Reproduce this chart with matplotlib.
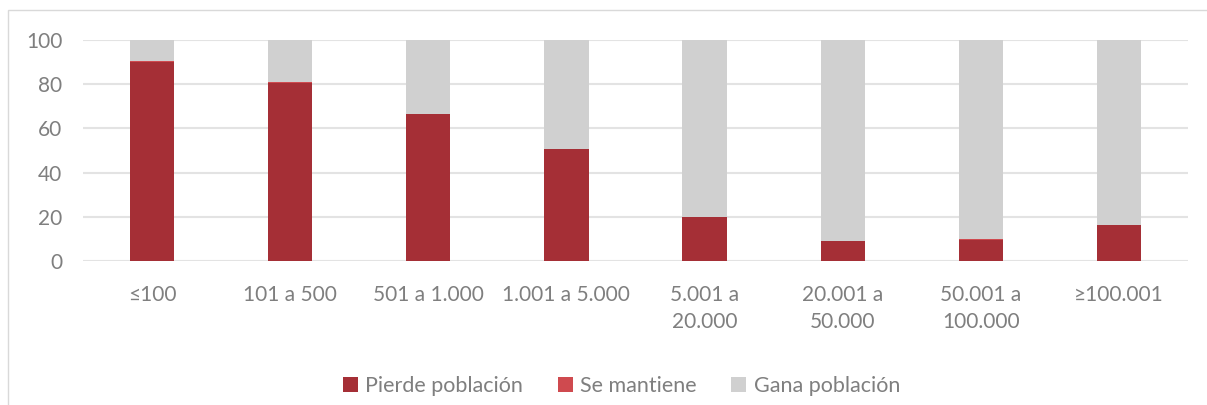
import numpy as np
import matplotlib
matplotlib.use("Agg")
import matplotlib.pyplot as plt
from matplotlib.patches import Rectangle

plt.rcParams['font.family'] = ['Lato', 'DejaVu Sans']

# ====== データ ======
categories = ["≤100", "101 a 500", "501 a 1.000", "1.001 a 5.000",
              "5.001 a\n20.000", "20.001 a\n50.000", "50.001 a\n100.000", "≥100.001"]
pierde = [90.0, 80.5, 66.5, 50.6, 19.9, 9.0, 9.6, 16.3]
mantiene = [0.6, 0.6, 0.2, 0.2, 0.1, 0.2, 0.2, 0.2]
gana = [9.4, 18.9, 33.3, 49.2, 80.0, 90.8, 90.2, 83.5]
series_names = ["Pierde población", "Se mantiene", "Gana población"]
colors = ["#A52F36", "#CF4A4F", "#D0D0D0"]
# ==================

fig = plt.figure(figsize=(12.07, 4.05), dpi=100)
# 外枠
fig.patches.append(Rectangle((8 / 1207, -0.1), 1.2, (405 - 10) / 405 + 0.1,
                             transform=fig.transFigure, fill=False,
                             edgecolor="#D9D9D9", linewidth=1.0))

ax = fig.add_axes([83 / 1207, 1 - 261 / 405, (1188 - 83) / 1207, (261 - 40) / 405])
x = np.arange(len(categories))
w = 0.32
bottom = np.zeros(len(categories))
for vals, name, c in zip([pierde, mantiene, gana], series_names, colors):
    ax.bar(x, vals, w, bottom=bottom, color=c, label=name, zorder=3)
    bottom += np.array(vals)

ax.set_xlim(-0.5, len(categories) - 0.5)
ax.set_ylim(0, 100)
ax.set_yticks(range(0, 101, 20))
ax.set_xticks(x)
ax.set_xticklabels(categories, linespacing=1.45)
ax.tick_params(axis="both", length=0, labelsize=15, colors="#7F7F7F")
ax.tick_params(axis="x", pad=17)
ax.tick_params(axis="y", pad=15)
ax.grid(axis="y", color="#E3E3E3", linewidth=1.5, zorder=0)
ax.set_axisbelow(True)
for s in ax.spines.values():
    s.set_visible(False)

leg = fig.legend(loc="center", bbox_to_anchor=(0.515, 1 - 386 / 405), ncol=3,
                 frameon=False, fontsize=15.5, handlelength=0.7, handleheight=0.7,
                 columnspacing=1.6, handletextpad=0.35)
for t in leg.get_texts():
    t.set_color("#7F7F7F")

fig.savefig("out.png", dpi=100)
